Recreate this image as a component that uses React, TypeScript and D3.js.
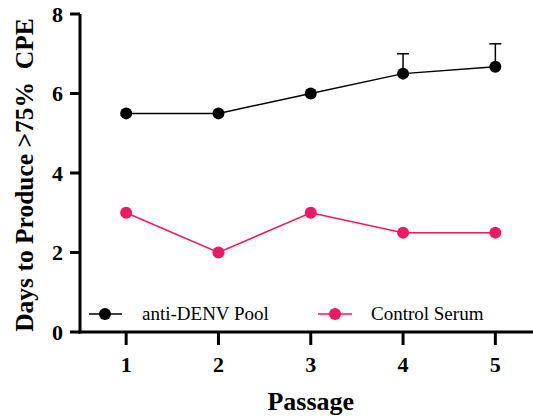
import React from "react";
import * as d3 from "d3";

const passages = [1, 2, 3, 4, 5];
const antiDenv = [5.5, 5.5, 6.0, 6.5, 6.67];
const antiDenvErr = [0, 0, 0, 0.5, 0.58];
const control = [3, 2, 3, 2.5, 2.5];
const yTicks = [0, 2, 4, 6, 8];

const W = 533, H = 416;
const x = d3.scaleLinear().domain([0.5, 5.5]).range([80, 541.5]);
const y = d3.scaleLinear().domain([0, 8]).range([332, 14]);
const FONT = "Liberation Serif, Times New Roman, Times, serif";
const BLACK = "#000";
const PINK = "#EC1A64";

export default function App() {
  const line = d3.line<number>().x((_, i) => x(passages[i])).y((d) => y(d));
  return (
    <svg width={W} height={H} style={{ position: "absolute", left: 0, top: 0, background: "#fff", fontFamily: FONT }}>
      {/* y axis */}
      <line x1={80} x2={80} y1={y(8)} y2={y(0) + 1.5} stroke={BLACK} strokeWidth={3} />
      {yTicks.map((t) => (
        <g key={t}>
          <line x1={70} x2={80} y1={y(t)} y2={y(t)} stroke={BLACK} strokeWidth={3} />
          <text x={63} y={y(t) + 7.5} textAnchor="end" style={{ fontFamily: FONT }} fontWeight="bold" fontSize={22}>{t}</text>
        </g>
      ))}
      {/* x axis */}
      <line x1={78.5} x2={W} y1={y(0)} y2={y(0)} stroke={BLACK} strokeWidth={3} />
      {passages.map((p) => (
        <g key={p}>
          <line x1={x(p)} x2={x(p)} y1={y(0)} y2={y(0) + 13} stroke={BLACK} strokeWidth={3} />
          <text x={x(p)} y={372} textAnchor="middle" style={{ fontFamily: FONT }} fontWeight="bold" fontSize={22}>{p}</text>
        </g>
      ))}
      <text x={x(3)} y={410} textAnchor="middle" style={{ fontFamily: FONT }} fontWeight="bold" fontSize={26}>Passage</text>
      <text transform={`translate(33,${y(4) + 2}) rotate(-90)`} textAnchor="middle" style={{ fontFamily: FONT, whiteSpace: "pre" }} fontWeight="bold" fontSize={25.5}>
        {"Days to Produce >75%  CPE"}
      </text>

      {/* error bars */}
      {antiDenv.map((v, i) =>
        antiDenvErr[i] > 0 ? (
          <g key={i}>
            <line x1={x(passages[i])} x2={x(passages[i])} y1={y(v)} y2={y(v + antiDenvErr[i])} stroke={BLACK} strokeWidth={1.5} />
            <line x1={x(passages[i]) - 6} x2={x(passages[i]) + 6} y1={y(v + antiDenvErr[i])} y2={y(v + antiDenvErr[i])} stroke={BLACK} strokeWidth={1.5} />
          </g>
        ) : null
      )}

      {/* series */}
      <path d={line(control) || ""} fill="none" stroke={PINK} strokeWidth={1.5} />
      {control.map((v, i) => (
        <circle key={i} cx={x(passages[i])} cy={y(v)} r={6} fill={PINK} />
      ))}
      <path d={line(antiDenv) || ""} fill="none" stroke={BLACK} strokeWidth={1.5} />
      {antiDenv.map((v, i) => (
        <circle key={i} cx={x(passages[i])} cy={y(v)} r={6} fill={BLACK} />
      ))}

      {/* legend */}
      <line x1={89} x2={122} y1={314} y2={314} stroke={BLACK} strokeWidth={1.5} />
      <circle cx={105} cy={314} r={6} fill={BLACK} />
      <text x={142} y={320} style={{ fontFamily: FONT }} fontSize={19}>anti-DENV Pool</text>
      <line x1={318} x2={352} y1={314} y2={314} stroke={PINK} strokeWidth={1.5} />
      <circle cx={335} cy={314} r={6} fill={PINK} />
      <text x={371} y={320} style={{ fontFamily: FONT }} fontSize={19}>Control Serum</text>
    </svg>
  );
}
